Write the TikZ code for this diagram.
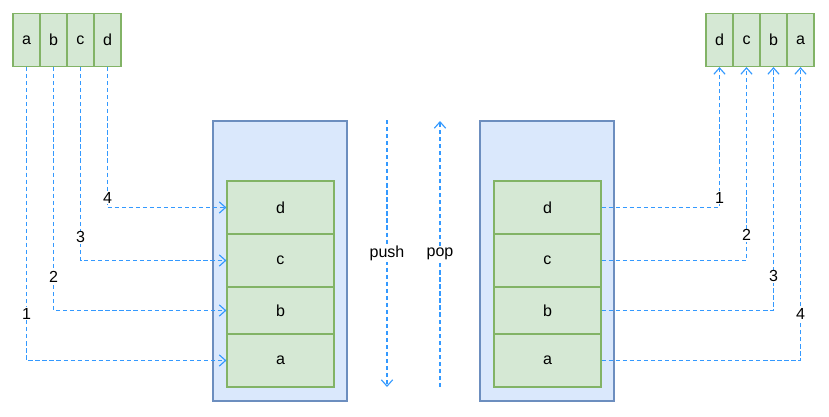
\documentclass[tikz,border=0pt]{standalone}
\usepackage{fontspec}
\setmainfont{Liberation Sans}
\usepackage{xcolor}
\usepackage{tikz}
\usetikzlibrary{arrows.meta}
\definecolor{stackblue}{HTML}{DAE8FC}
\definecolor{stackedge}{HTML}{6C8EBF}
\definecolor{cellgreen}{HTML}{D5E8D4}
\definecolor{celledge}{HTML}{82B366}
\definecolor{flowblue}{HTML}{3399FF}

\tikzset{
  cell/.style={draw=celledge, fill=cellgreen, line width=0.8pt, inner sep=0pt,
    minimum width=0.675cm, minimum height=1.325cm, font=\fontsize{11.4}{13}\selectfont},
  slot/.style={cell, minimum width=2.675cm},
  stackbox/.style={draw=stackedge, fill=stackblue, line width=0.8pt, inner sep=0pt,
    minimum width=3.35cm, minimum height=7cm},
  flow/.style={draw=flowblue, line width=0.8pt, dash pattern=on 3pt off 2pt,
    -{Straight Barb[length=4.5pt,width=8pt]}},
  tag/.style={fill=white, inner sep=0.6pt, font=\fontsize{11.4}{13}\selectfont},
}

\begin{document}
\begin{tikzpicture}[x=0.025cm, y=-0.025cm]
  \useasboundingbox (0,0) rectangle (829,416);

  % input sequence
  \node[cell] (ina) at (26.5,40) {a};
  \node[cell] (inb) at (53.5,40) {b};
  \node[cell] (inc) at (80.5,40) {c};
  \node[cell] (ind) at (107.5,40) {d};

  % output sequence
  \node[cell] (outd) at (719.5,40) {d};
  \node[cell] (outc) at (746.5,40) {c};
  \node[cell] (outb) at (773.5,40) {b};
  \node[cell] (outa) at (800.5,40) {a};

  % stack while pushing
  \node[stackbox] (pushbox) at (280,261) {};
  \node[slot] (pd) at (280.5,207.5) {d};
  \node[slot] (pc) at (280.5,260.5) {c};
  \node[slot, minimum height=1.175cm] (pb) at (280.5,310.5) {b};
  \node[slot] (pa) at (280.5,360.5) {a};

  % stack while popping
  \node[stackbox] (popbox) at (547,261) {};
  \node[slot] (qd) at (547.5,207.5) {d};
  \node[slot] (qc) at (547.5,260.5) {c};
  \node[slot, minimum height=1.175cm] (qb) at (547.5,310.5) {b};
  \node[slot] (qa) at (547.5,360.5) {a};

  % push / pop
  \coordinate (pushtop) at (387,120);
  \coordinate (pushend) at (387,387);
  \coordinate (popstart) at (440,387);
  \coordinate (poptop) at (440,121);
  \draw[flow] (pushtop) -- (pushend) node[tag, midway] {push};
  \draw[flow] (popstart) -- (poptop) node[tag, midway] {pop};

  % pushing order
  \draw[flow] (ina.south) |- (pa.west) node[tag, pos=0.42] {1};
  \draw[flow] (inb.south) |- (pb.west) node[tag, pos=0.43] {2};
  \draw[flow] (inc.south) |- (pc.west) node[tag, pos=0.44] {3};
  \draw[flow] (ind.south) |- (pd.west) node[tag, pos=0.465] {4};

  % popping order
  \draw[flow] (qd.east) -| (outd.south) node[tag, pos=0.535] {1};
  \draw[flow] (qc.east) -| (outc.south) node[tag, pos=0.565] {2};
  \draw[flow] (qb.east) -| (outb.south) node[tag, pos=0.57] {3};
  \draw[flow] (qa.east) -| (outa.south) node[tag, pos=0.58] {4};
\end{tikzpicture}
\end{document}
